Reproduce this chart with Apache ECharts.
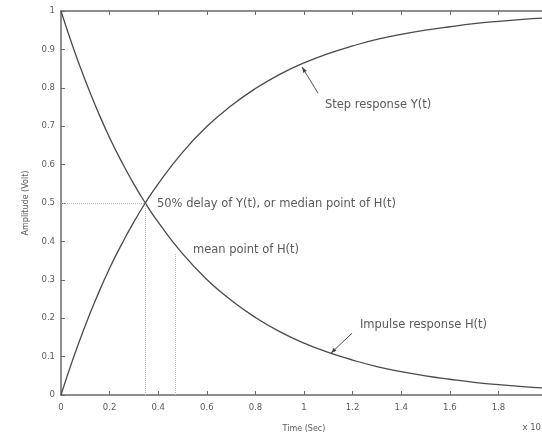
<!DOCTYPE html>
<html>
<head>
<meta charset="utf-8">
<script src="https://cdn.jsdelivr.net/npm/echarts@6/dist/echarts.min.js"></script>
<style>
  html, body { margin: 0; padding: 0; background: #fff; }
  #chart { width: 542px; height: 433px; }
</style>
</head>
<body>
<div id="chart"></div>
<script>
// time samples (sec, axis scaled x10^-3)
const timeValues = [0, 0.05, 0.1, 0.15, 0.2, 0.25, 0.3, 0.35, 0.4, 0.5, 0.6, 0.7, 0.8, 0.9, 1.0, 1.1, 1.2, 1.3, 1.4, 1.5, 1.6, 1.7, 1.8, 1.9, 2.0]
// step response Y(t)
const stepValues = [0, 0.095, 0.181, 0.259, 0.330, 0.393, 0.451, 0.503, 0.550, 0.632, 0.699, 0.753, 0.798, 0.835, 0.865, 0.889, 0.909, 0.926, 0.939, 0.950, 0.959, 0.967, 0.973, 0.978, 0.982]
// impulse response H(t)
const impulseValues = [1, 0.905, 0.819, 0.741, 0.670, 0.607, 0.549, 0.497, 0.450, 0.368, 0.301, 0.247, 0.202, 0.165, 0.135, 0.111, 0.091, 0.074, 0.061, 0.050, 0.041, 0.033, 0.027, 0.022, 0.018]
const xTicks = [0, 0.2, 0.4, 0.6, 0.8, 1, 1.2, 1.4, 1.6, 1.8, 2]
const yTicks = [0, 0.1, 0.2, 0.3, 0.4, 0.5, 0.6, 0.7, 0.8, 0.9, 1]
const medianPoint = [0.346, 0.5]
const meanPoint = [0.47, 0.37]

const axisColor = '#6a6a6a'
const textColor = '#5a5a5a'
const curveColor = '#4a4a4a'
const guideColor = '#b8b8b8'
const font = 'DejaVu Sans'

function pairs (xs, ys) {
  return xs.map((x, i) => [x, ys[i]])
}

const chart = echarts.init(document.getElementById('chart'))

const baseAxis = {
  type: 'value',
  min: xTicks[0],
  max: xTicks[xTicks.length - 1],
  interval: 0.2,
  splitLine: { show: false },
  axisLine: { lineStyle: { color: axisColor, width: 1.5 } },
  axisTick: { inside: true, length: 4, lineStyle: { color: axisColor } }
}

chart.setOption({
  animation: false,
  backgroundColor: '#fff',
  // the plot box runs past the right edge of the picture
  grid: { left: 61, width: 486, top: 11, height: 384, outerBoundsMode: 'none', containLabel: false },
  xAxis: [
    Object.assign({}, baseAxis, {
      position: 'bottom',
      name: 'Time (Sec)',
      nameLocation: 'middle',
      nameGap: 30,
      nameTextStyle: { color: textColor, fontSize: 8, fontFamily: font },
      axisLabel: {
        color: textColor, fontSize: 8.5, margin: 8, fontFamily: font,
        formatter: v => String(+v.toFixed(1))
      }
    }),
    Object.assign({}, baseAxis, {
      position: 'top',
      axisLabel: { show: false }
    })
  ],
  yAxis: [
    {
      type: 'value',
      min: yTicks[0],
      max: yTicks[yTicks.length - 1],
      interval: 0.1,
      name: 'Amplitude (Volt)',
      nameLocation: 'middle',
      nameGap: 31,
      nameTextStyle: { color: textColor, fontSize: 8, fontFamily: font },
      splitLine: { show: false },
      axisLine: { lineStyle: { color: axisColor, width: 1.5 } },
      axisTick: { inside: true, length: 4, lineStyle: { color: axisColor } },
      axisLabel: {
        color: textColor, fontSize: 8.5, margin: 6, fontFamily: font,
        formatter: v => String(+v.toFixed(1))
      }
    }
  ],
  series: [
    {
      name: 'Step response Y(t)',
      type: 'line',
      smooth: true,
      showSymbol: false,
      data: pairs(timeValues, stepValues),
      lineStyle: { color: curveColor, width: 1.3 },
      markLine: {
        silent: true,
        symbol: 'none',
        label: { show: false },
        lineStyle: { color: guideColor, type: 'dotted', width: 1 },
        data: [
          [{ coord: [0, medianPoint[1]] }, { coord: medianPoint }],
          [{ coord: [medianPoint[0], 0] }, { coord: medianPoint }],
          [{ coord: [meanPoint[0], 0] }, { coord: meanPoint }]
        ]
      }
    },
    {
      name: 'Impulse response H(t)',
      type: 'line',
      smooth: true,
      showSymbol: false,
      data: pairs(timeValues, impulseValues),
      lineStyle: { color: curveColor, width: 1.3 }
    }
  ]
})

// annotations placed in data coordinates
const notes = [
  { text: 'Step response Y(t)', at: [1.086, 0.755] },
  { text: '50% delay of Y(t), or median point of H(t)', at: [0.395, 0.497] },
  { text: 'mean point of H(t)', at: [0.543, 0.378] },
  { text: 'Impulse response H(t)', at: [1.23, 0.182] }
]
const arrows = [
  { from: [1.058, 0.786], to: [0.992, 0.854] },
  { from: [1.198, 0.161], to: [1.111, 0.109] }
]

const px = p => chart.convertToPixel({ xAxisIndex: 0, yAxisIndex: 0 }, p)
const graphics = []
notes.forEach(n => {
  const p = px(n.at)
  graphics.push({
    type: 'text', x: p[0], y: p[1],
    style: { text: n.text, fill: textColor, fontSize: 11.5, fontFamily: font, verticalAlign: 'middle' }
  })
})
arrows.forEach(a => {
  const f = px(a.from)
  const t = px(a.to)
  const ang = Math.atan2(t[1] - f[1], t[0] - f[0])
  const hl = 6
  graphics.push({ type: 'line', shape: { x1: f[0], y1: f[1], x2: t[0], y2: t[1] }, style: { stroke: '#555', lineWidth: 1 } })
  graphics.push({
    type: 'polygon',
    shape: {
      points: [
        t,
        [t[0] - hl * Math.cos(ang - 0.35), t[1] - hl * Math.sin(ang - 0.35)],
        [t[0] - hl * Math.cos(ang + 0.35), t[1] - hl * Math.sin(ang + 0.35)]
      ]
    },
    style: { fill: '#444' }
  })
})
const xEnd = px([0, 0])
graphics.push({
  type: 'text', x: 541, y: xEnd[1] + 33,
  style: { text: 'x 10', fill: textColor, fontSize: 8.5, fontFamily: font, verticalAlign: 'middle', align: 'right' }
})
chart.setOption({ graphic: graphics })
</script>
</body>
</html>
